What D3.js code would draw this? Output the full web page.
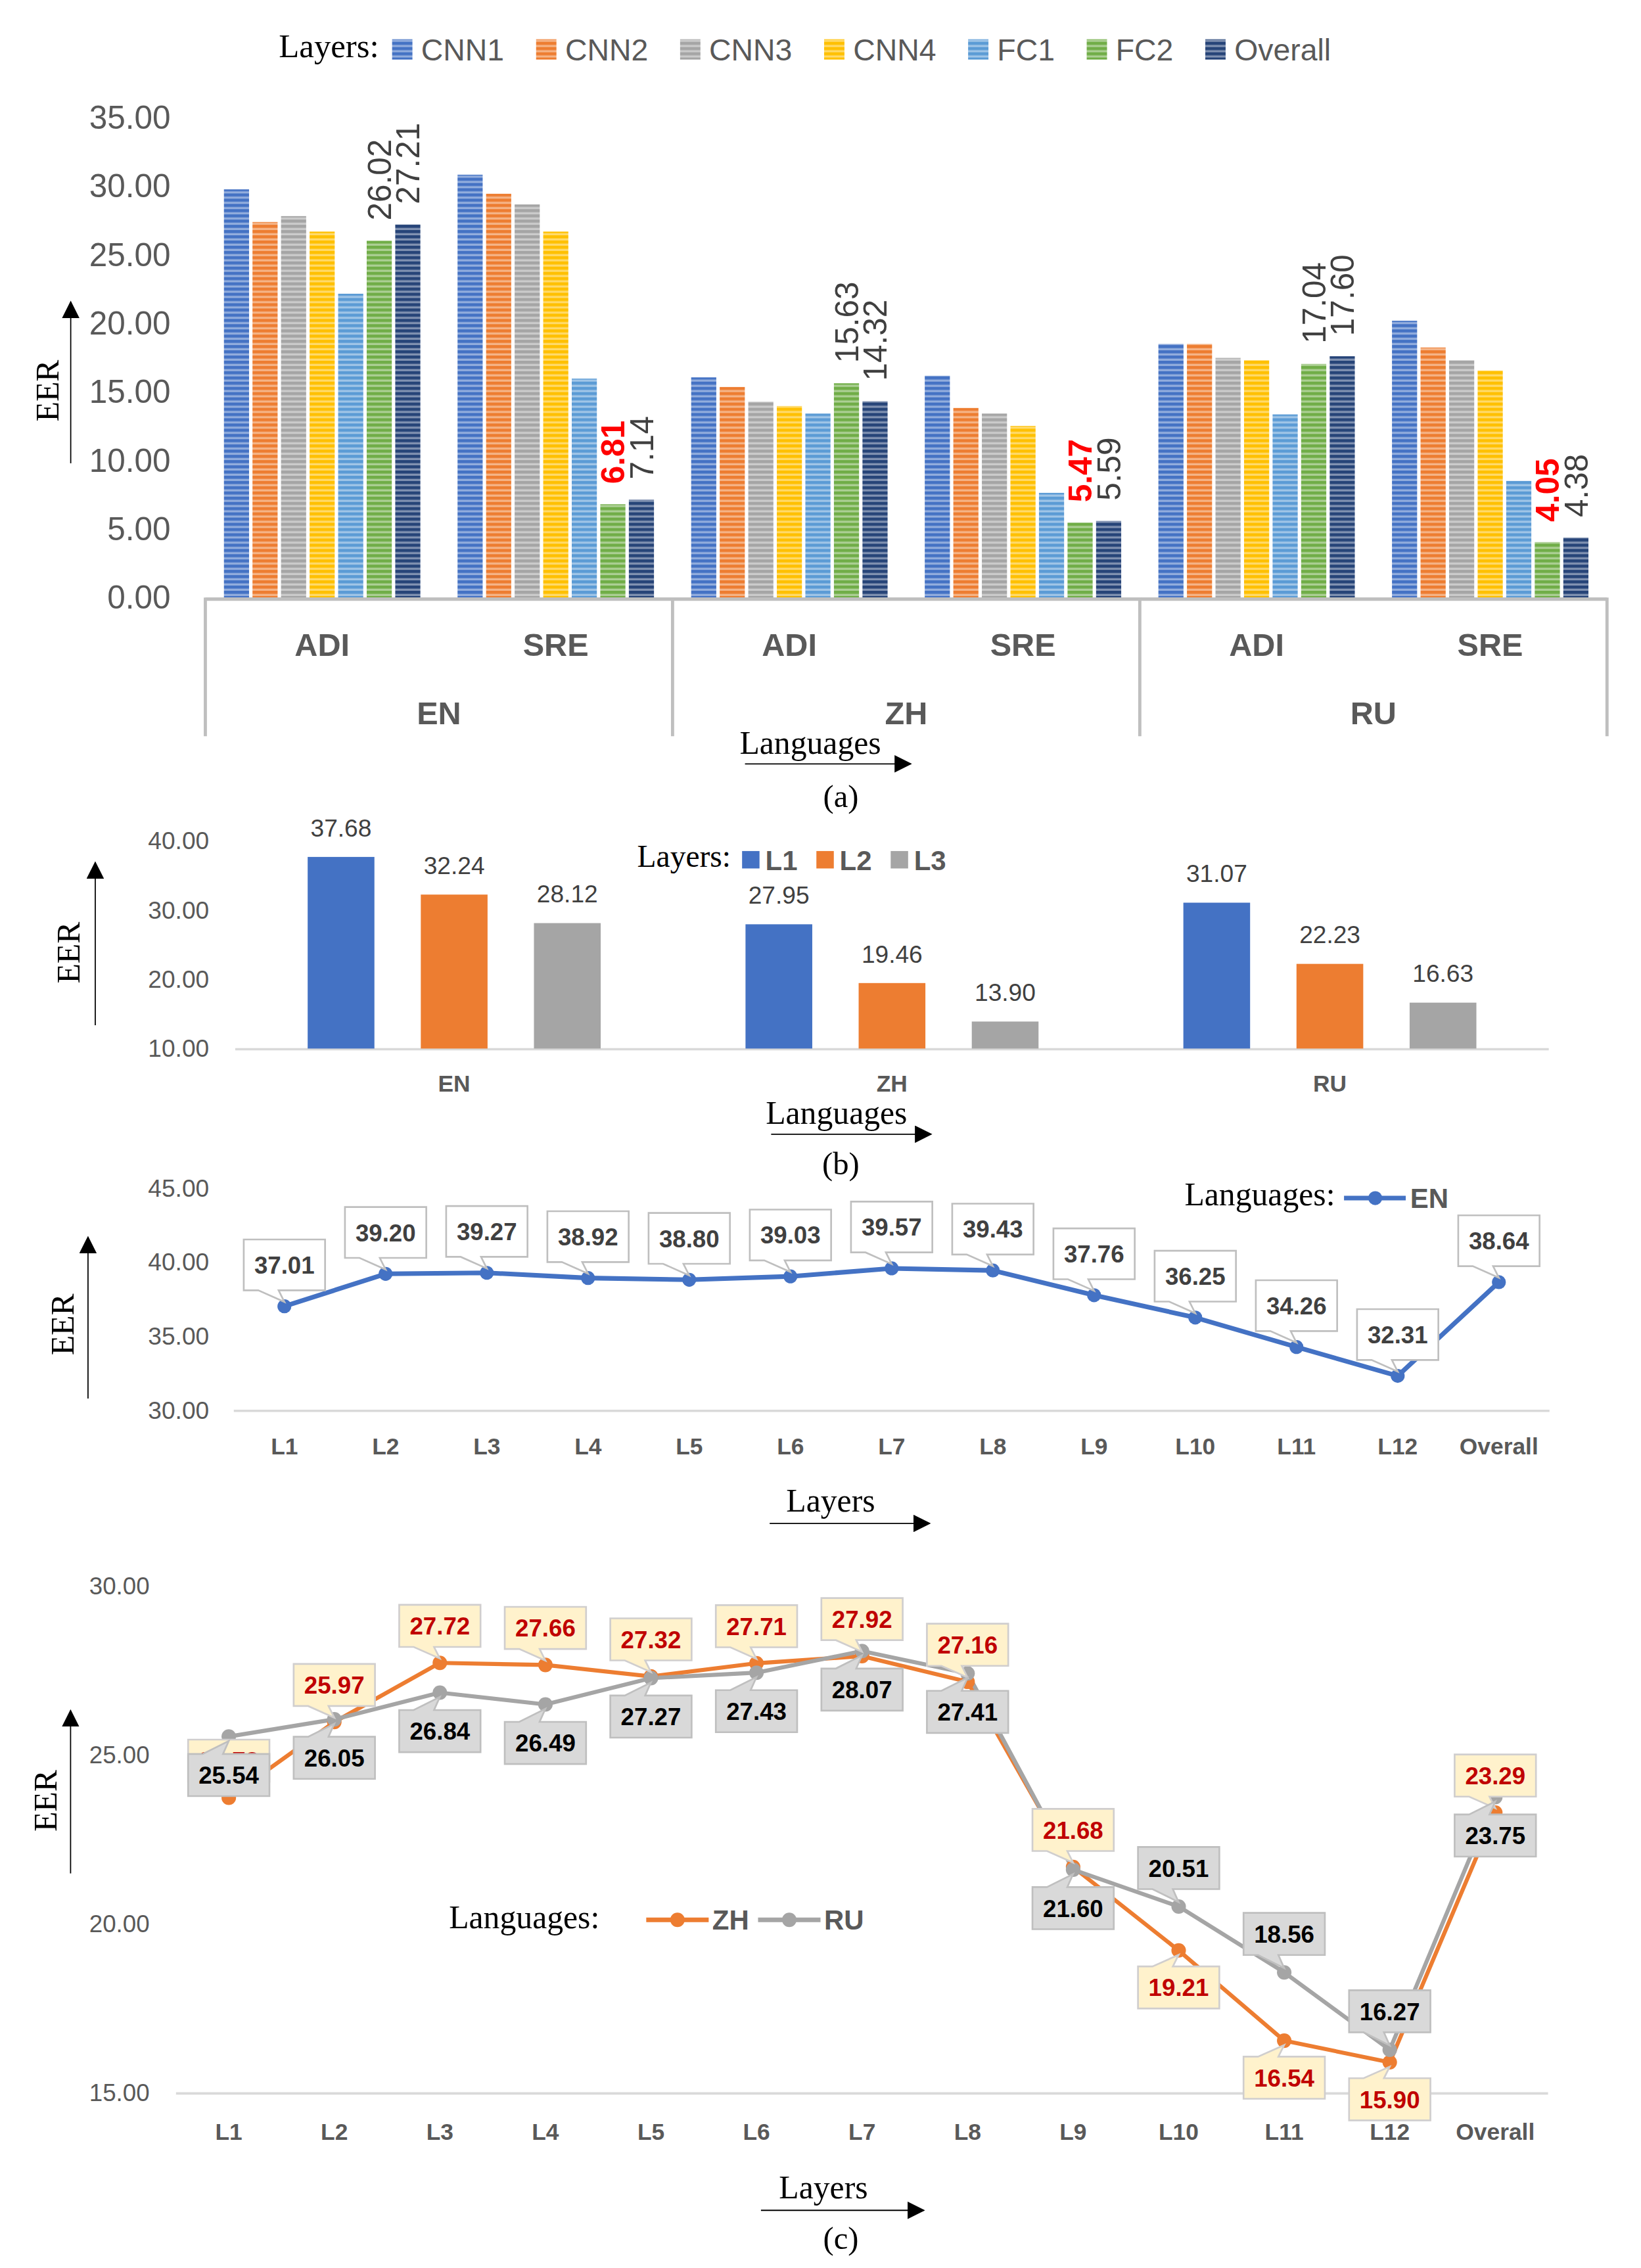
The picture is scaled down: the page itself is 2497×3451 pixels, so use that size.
<!DOCTYPE html>
<html lang="en">
<head>
<meta charset="UTF-8">
<title>EER by layer</title>
<script src="https://d3js.org/d3.v7.min.js"></script>
<style>
    body { margin: 0; background: #fff; }
    text { font-family: 'Liberation Sans', Arial, sans-serif; }
    .serif { font-family: 'Liberation Serif', 'Times New Roman', serif; fill: #000; }
</style>
</head>
<body>
<script>

    // ---------- data ----------
    const langs  = ['EN', 'ZH', 'RU'];
    const tasks  = ['ADI', 'SRE'];
    const layersA = ['CNN1', 'CNN2', 'CNN3', 'CNN4', 'FC1', 'FC2', 'Overall'];

    // order: EN-ADI, EN-SRE, ZH-ADI, ZH-SRE, RU-ADI, RU-SRE
    const cnn1    = [29.77, 30.84, 16.06, 16.18, 18.50, 20.19];
    const cnn2    = [27.39, 29.45, 15.36, 13.83, 18.50, 18.24];
    const cnn3    = [27.82, 28.67, 14.29, 13.42, 17.48, 17.31];
    const cnn4    = [26.69, 26.69, 13.97, 12.52, 17.31, 16.56];
    const fc1     = [22.16, 15.97, 13.42, 7.64, 13.36, 8.51];
    const fc2     = [26.02, 6.81, 15.63, 5.47, 17.04, 4.05];
    const overall = [27.21, 7.14, 14.32, 5.59, 17.60, 4.38];
    const ticksA  = [0, 5, 10, 15, 20, 25, 30, 35];

    const layersB = ['L1', 'L2', 'L3'];
    const bL1 = [37.68, 27.95, 31.07];
    const bL2 = [32.24, 19.46, 22.23];
    const bL3 = [28.12, 13.90, 16.63];
    const ticksB = [10, 20, 30, 40];

    const layersC = ['L1', 'L2', 'L3', 'L4', 'L5', 'L6', 'L7', 'L8', 'L9', 'L10', 'L11', 'L12', 'Overall'];
    const enLine = [37.01, 39.20, 39.27, 38.92, 38.80, 39.03, 39.57, 39.43, 37.76, 36.25, 34.26, 32.31, 38.64];
    const ticksC1 = [30, 35, 40, 45];
    const zhLine = [23.73, 25.97, 27.72, 27.66, 27.32, 27.71, 27.92, 27.16, 21.68, 19.21, 16.54, 15.90, 23.29];
    const ruLine = [25.54, 26.05, 26.84, 26.49, 27.27, 27.43, 28.07, 27.41, 21.60, 20.51, 18.56, 16.27, 23.75];
    const ticksC2 = [15, 20, 25, 30];

    const colorsA = ['#4472C4', '#ED7D31', '#A5A5A5', '#FFC000', '#5B9BD5', '#70AD47', '#264478'];
    const colorsB = ['#4472C4', '#ED7D31', '#A5A5A5'];

    // ---------- svg ----------
    const W = 1130, H = 1561.7;
    const svg = d3.select('body').append('svg')
        .attr('width', 2497).attr('height', 3451)
        .attr('viewBox', `0 0 ${W} ${H}`);
    svg.append('rect').attr('width', W).attr('height', H).attr('fill', '#fff');

    const defs = svg.append('defs');
    defs.append('marker').attr('id', 'arr')
        .attr('viewBox', '0 0 12 12').attr('refX', 11).attr('refY', 6)
        .attr('markerWidth', 12).attr('markerHeight', 12)
        .attr('markerUnits', 'userSpaceOnUse').attr('orient', 'auto')
        .append('path').attr('d', 'M0,0 L12,6 L0,12 Z').attr('fill', '#000');

    colorsA.forEach((c, i) => {
        const p = defs.append('pattern').attr('id', 'stripe' + i)
            .attr('patternUnits', 'userSpaceOnUse').attr('width', 8).attr('height', 3.6);
        p.append('rect').attr('width', 8).attr('height', 3.6).attr('fill', c);
        p.append('rect').attr('y', 2.1).attr('width', 8).attr('height', 1.5)
            .attr('fill', '#fff').attr('opacity', 0.42);
    });

    function arrow(x1, y1, x2, y2) {
        svg.append('line').attr('x1', x1).attr('y1', y1).attr('x2', x2).attr('y2', y2)
            .attr('stroke', '#000').attr('stroke-width', 0.8).attr('marker-end', 'url(#arr)');
    }
    function serifText(x, y, t, size, rotate) {
        const el = svg.append('text').attr('class', 'serif').attr('font-size', size)
            .attr('text-anchor', 'middle').attr('dy', '0.35em').text(t);
        if (rotate) el.attr('transform', `translate(${x},${y}) rotate(-90)`);
        else el.attr('x', x).attr('y', y);
        return el;
    }
    function yAxis(scale, ticks, x, size) {
        const g = svg.append('g').attr('transform', `translate(${x},0)`)
            .call(d3.axisLeft(scale).tickValues(ticks).tickFormat(d3.format('.2f')).tickSize(0).tickPadding(0));
        g.select('.domain').remove();
        g.selectAll('text').attr('font-size', size).attr('fill', '#595959')
            .attr('font-family', "'Liberation Sans', Arial, sans-serif");
    }

    // ================= (a) =================
    const seriesA = [cnn1, cnn2, cnn3, cnn4, fc1, fc2, overall];
    const combos = langs.flatMap(l => tasks.map(t => l + '-' + t));
    const ya = d3.scaleLinear().domain([0, 35]).range([411.5, 81]);
    const x0 = d3.scaleBand().domain(combos).range([141.4, 1106.6]);
    const x1 = d3.scaleBand().domain(layersA).range([12.8, x0.bandwidth() - 12.8]).paddingInner(0.12);

    yAxis(ya, ticksA, 117.5, 22.4);

    const gA = svg.append('g');
    layersA.forEach((layer, k) => {
        gA.selectAll('.bar' + k).data(seriesA[k]).enter().append('rect')
            .attr('x', (d, i) => x0(combos[i]) + x1(layer))
            .attr('y', d => ya(d))
            .attr('width', x1.bandwidth())
            .attr('height', d => ya(0) - ya(d))
            .attr('fill', `url(#stripe${k})`);
    });
    // rotated value labels for FC2 and Overall
    ['FC2', 'Overall'].forEach(layer => {
        const k = layersA.indexOf(layer);
        seriesA[k].forEach((v, i) => {
            const red = layer === 'FC2' && combos[i].endsWith('SRE');
            const cx = x0(combos[i]) + x1(layer) + x1.bandwidth() / 2;
            gA.append('text')
                .attr('transform', `translate(${cx},${ya(v) - 14}) rotate(-90)`)
                .attr('dy', '0.36em')
                .attr('font-size', 22.4)
                .attr('font-weight', red ? 'bold' : 'normal')
                .attr('fill', red ? '#FF0000' : '#404040')
                .text(v.toFixed(2));
        });
    });
    // category axis
    svg.append('line').attr('x1', 141.4).attr('x2', 1106.6).attr('y1', 412.5).attr('y2', 412.5)
        .attr('stroke', '#BFBFBF').attr('stroke-width', 2.4);
    const groupEdges = langs.map(l => x0(l + '-ADI')).concat([x0.range()[1]]);
    groupEdges.forEach(x => {
        svg.append('line').attr('x1', x).attr('x2', x).attr('y1', 411.5).attr('y2', 507)
            .attr('stroke', '#BFBFBF').attr('stroke-width', 2.2);
    });
    combos.forEach(c => {
        svg.append('text').attr('x', x0(c) + x0.bandwidth() / 2).attr('y', 444).attr('dy', '0.35em')
            .attr('text-anchor', 'middle').attr('font-size', 22).attr('font-weight', 'bold')
            .attr('fill', '#595959').text(c.split('-')[1]);
    });
    langs.forEach(l => {
        svg.append('text').attr('x', x0(l + '-ADI') + x0.bandwidth()).attr('y', 491).attr('dy', '0.35em')
            .attr('text-anchor', 'middle').attr('font-size', 22).attr('font-weight', 'bold')
            .attr('fill', '#595959').text(l);
    });
    // legend (a)
    serifText(226.5, 31.5, 'Layers:', 23);
    let lx = 270;
    layersA.forEach((layer, k) => {
        svg.append('rect').attr('x', lx).attr('y', 27).attr('width', 14).attr('height', 14)
            .attr('fill', `url(#stripe${k})`);
        const t = svg.append('text').attr('x', lx + 20).attr('y', 34.5).attr('dy', '0.35em')
            .attr('font-size', 21).attr('fill', '#595959').text(layer);
        lx += 20 + t.node().getComputedTextLength() + 22;
    });
    serifText(32.5, 269, 'EER', 22.5, true);
    arrow(48.7, 319, 48.7, 208);
    serifText(558, 511, 'Languages', 22.5);
    arrow(513, 526, 627, 526);
    serifText(579, 548, '(a)', 22);

    // ================= (b) =================
    const seriesB = [bL1, bL2, bL3];
    const yb = d3.scaleLinear().domain([10, 40]).range([722, 579]);
    const xb0 = d3.scaleBand().domain(langs).range([162, 1066.5]);
    const xb1 = d3.scaleBand().domain(layersB).range([0, xb0.bandwidth()]).paddingInner(0.41).paddingOuter(0.64);

    yAxis(yb, ticksB, 144, 16.8);
    svg.append('line').attr('x1', 162).attr('x2', 1066.5).attr('y1', 722.5).attr('y2', 722.5)
        .attr('stroke', '#D9D9D9').attr('stroke-width', 1.6);
    layersB.forEach((layer, k) => {
        svg.append('g').selectAll('rect').data(seriesB[k]).enter().append('rect')
            .attr('x', (d, i) => xb0(langs[i]) + xb1(layer))
            .attr('y', d => yb(d))
            .attr('width', xb1.bandwidth())
            .attr('height', d => yb(10) - yb(d))
            .attr('fill', colorsB[k]);
        svg.append('g').selectAll('text').data(seriesB[k]).enter().append('text')
            .attr('x', (d, i) => xb0(langs[i]) + xb1(layer) + xb1.bandwidth() / 2)
            .attr('y', d => yb(d) - 20).attr('dy', '0.35em')
            .attr('text-anchor', 'middle').attr('font-size', 16.8).attr('fill', '#404040')
            .text(d => d.toFixed(2));
    });
    langs.forEach(l => {
        svg.append('text').attr('x', xb0(l) + xb0.bandwidth() / 2).attr('y', 746).attr('dy', '0.35em')
            .attr('text-anchor', 'middle').attr('font-size', 16).attr('font-weight', 'bold')
            .attr('fill', '#595959').text(l);
    });
    serifText(471, 589.5, 'Layers:', 21.5);
    let bx = 511;
    layersB.forEach((layer, k) => {
        svg.append('rect').attr('x', bx).attr('y', 586).attr('width', 12).attr('height', 12)
            .attr('fill', colorsB[k]);
        const t = svg.append('text').attr('x', bx + 16).attr('y', 592.5).attr('dy', '0.35em')
            .attr('font-size', 19).attr('font-weight', 'bold').attr('fill', '#595959').text(layer);
        bx += 16 + t.node().getComputedTextLength() + 13;
    });
    serifText(47, 656, 'EER', 22.5, true);
    arrow(65.6, 706, 65.6, 594);
    serifText(576, 766, 'Languages', 22.5);
    arrow(531, 781, 641, 781);
    serifText(579, 801, '(b)', 22);

    // ---------- callout helper ----------
    function callout(g, px, py, label, above, st) {
        const w = 56, h = st.h, gap = st.gap;
        const l = px - w / 2, r = px + w / 2;
        let t, b, d;
        if (above) {
            b = py - gap; t = b - h;
            d = `M${l},${t} H${r} V${b} H${px - 4} L${px},${py - 3} L${px - 18},${b} H${l} Z`;
        } else {
            t = py + gap; b = t + h;
            d = `M${l},${t} H${px - 18} L${px},${py + 3} L${px - 4},${t} H${r} V${b} H${l} Z`;
        }
        g.append('path').attr('d', d).attr('fill', st.fill).attr('stroke', st.stroke)
            .attr('stroke-width', 1.2).attr('stroke-linejoin', 'miter');
        g.append('text').attr('x', px).attr('y', (t + b) / 2).attr('dy', '0.36em')
            .attr('text-anchor', 'middle').attr('font-size', 16.6).attr('font-weight', 'bold')
            .attr('fill', st.color).text(label);
    }

    // ================= (c) top: EN line =================
    const yc = d3.scaleLinear().domain([30, 45]).range([971, 818]);
    const xc = d3.scalePoint().domain(layersC).range([161, 1067]).padding(0.5);
    yAxis(yc, ticksC1, 144, 16.8);
    svg.append('line').attr('x1', 161).attr('x2', 1067).attr('y1', 971.5).attr('y2', 971.5)
        .attr('stroke', '#D9D9D9').attr('stroke-width', 1.6);
    layersC.forEach(l => {
        svg.append('text').attr('x', xc(l)).attr('y', 996).attr('dy', '0.35em')
            .attr('text-anchor', 'middle').attr('font-size', 16).attr('font-weight', 'bold')
            .attr('fill', '#595959').text(l);
    });
    const lineC = d3.line().x((d, i) => xc(layersC[i])).y(d => yc(d));
    const gC = svg.append('g');
    gC.append('path').datum(enLine).attr('d', lineC).attr('fill', 'none')
        .attr('stroke', '#4472C4').attr('stroke-width', 3.2).attr('stroke-linejoin', 'round');
    gC.selectAll('circle').data(enLine).enter().append('circle')
        .attr('cx', (d, i) => xc(layersC[i])).attr('cy', d => yc(d)).attr('r', 4.8).attr('fill', '#4472C4');
    enLine.forEach((v, i) => callout(gC, xc(layersC[i]), yc(v), v.toFixed(2), true,
        { h: 35, gap: 11, fill: '#fff', stroke: '#BFBFBF', color: '#404040' }));
    serifText(867.5, 822, 'Languages:', 22.5);
    svg.append('line').attr('x1', 925.5).attr('x2', 968).attr('y1', 825).attr('y2', 825)
        .attr('stroke', '#4472C4').attr('stroke-width', 3.2);
    svg.append('circle').attr('cx', 947).attr('cy', 825).attr('r', 4.8).attr('fill', '#4472C4');
    svg.append('text').attr('x', 971).attr('y', 825).attr('dy', '0.35em').attr('font-size', 19)
        .attr('font-weight', 'bold').attr('fill', '#595959').text('EN');
    serifText(43, 912, 'EER', 22.5, true);
    arrow(60.6, 963, 60.6, 852);
    serifText(572, 1033, 'Layers', 22.5);
    arrow(530, 1049, 640, 1049);

    // ================= (c) bottom: ZH / RU lines =================
    const yd = d3.scaleLinear().domain([15, 30]).range([1441, 1092]);
    const xd = d3.scalePoint().domain(layersC).range([121.2, 1066]).padding(0.5);
    yAxis(yd, ticksC2, 103, 16.6);
    svg.append('line').attr('x1', 121.2).attr('x2', 1066).attr('y1', 1441.5).attr('y2', 1441.5)
        .attr('stroke', '#D9D9D9').attr('stroke-width', 1.6);
    layersC.forEach(l => {
        svg.append('text').attr('x', xd(l)).attr('y', 1468).attr('dy', '0.35em')
            .attr('text-anchor', 'middle').attr('font-size', 16).attr('font-weight', 'bold')
            .attr('fill', '#595959').text(l);
    });
    const lineD = d3.line().x((d, i) => xd(layersC[i])).y(d => yd(d));
    const gD = svg.append('g');
    [[zhLine, '#ED7D31'], [ruLine, '#A5A5A5']].forEach(([data, c]) => {
        gD.append('path').datum(data).attr('d', lineD).attr('fill', 'none')
            .attr('stroke', c).attr('stroke-width', 2.8).attr('stroke-linejoin', 'round');
    });
    [[zhLine, '#ED7D31'], [ruLine, '#A5A5A5']].forEach(([data, c]) => {
        gD.append('g').selectAll('circle').data(data).enter().append('circle')
            .attr('cx', (d, i) => xd(layersC[i])).attr('cy', d => yd(d)).attr('r', 5).attr('fill', c);
    });
    const zhStyle = { h: 29, gap: 11, fill: '#FFF2CC', stroke: '#D0CECE', color: '#C00000' };
    const ruStyle = { h: 29, gap: 12, fill: '#D9D9D9', stroke: '#BFBFBF', color: '#000' };
    const zhAbove = i => i < 9 || i === layersC.length - 1;
    zhLine.forEach((v, i) => callout(gD, xd(layersC[i]), yd(v), v.toFixed(2), zhAbove(i), zhStyle));
    ruLine.forEach((v, i) => callout(gD, xd(layersC[i]), yd(v), v.toFixed(2), !zhAbove(i), ruStyle));

    serifText(361, 1320, 'Languages:', 22.5);
    svg.append('line').attr('x1', 445).attr('x2', 488).attr('y1', 1322).attr('y2', 1322)
        .attr('stroke', '#ED7D31').attr('stroke-width', 3.2);
    svg.append('circle').attr('cx', 466.5).attr('cy', 1322).attr('r', 5).attr('fill', '#ED7D31');
    svg.append('text').attr('x', 490.5).attr('y', 1322).attr('dy', '0.35em').attr('font-size', 19)
        .attr('font-weight', 'bold').attr('fill', '#595959').text('ZH');
    svg.append('line').attr('x1', 522).attr('x2', 565).attr('y1', 1322).attr('y2', 1322)
        .attr('stroke', '#A5A5A5').attr('stroke-width', 3.2);
    svg.append('circle').attr('cx', 543.5).attr('cy', 1322).attr('r', 5).attr('fill', '#A5A5A5');
    svg.append('text').attr('x', 567.5).attr('y', 1322).attr('dy', '0.35em').attr('font-size', 19)
        .attr('font-weight', 'bold').attr('fill', '#595959').text('RU');

    serifText(31, 1240, 'EER', 22.5, true);
    arrow(48.6, 1290, 48.6, 1178);
    serifText(567, 1506, 'Layers', 22.5);
    arrow(524, 1522, 636, 1522);
    serifText(579, 1541, '(c)', 22);

</script>
</body>
</html>
